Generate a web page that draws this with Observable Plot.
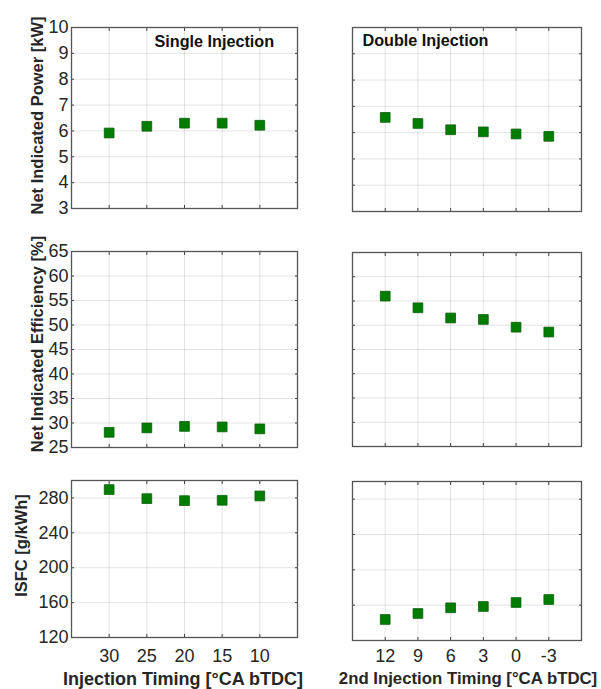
<!DOCTYPE html>
<html>
<head>
<meta charset="utf-8">
<script src="https://cdn.jsdelivr.net/npm/d3@7"></script>
<script src="https://cdn.jsdelivr.net/npm/@observablehq/plot@0.6"></script>
<style>
  body { margin: 0; background: #fff; }
  #chart { position: relative; width: 601px; height: 689px; font-family: "Liberation Sans", Arial, sans-serif; }
  #chart svg { position: absolute; overflow: visible; }
</style>
</head>
<body>
<div id="chart"></div>
<script>
// ---- data ----
const singleTiming = [30, 25, 20, 15, 10];
const doubleTiming = [12, 9, 6, 3, 0, -3];

const singlePower = [5.92, 6.18, 6.30, 6.30, 6.22];
const doublePower = [6.58, 6.35, 6.11, 6.03, 5.95, 5.86];

const singleEff = [28.1, 29.0, 29.3, 29.2, 28.8];
const doubleEff = [56.0, 53.6, 51.5, 51.2, 49.6, 48.6];

const singleIsfc = [289.6, 279.2, 276.9, 277.3, 282.3];
const doubleIsfc = [143.8, 150.6, 157.0, 158.5, 163.0, 166.4];

const powerTicks = [3, 4, 5, 6, 7, 8, 9, 10];
const effTicks = [25, 30, 35, 40, 45, 50, 55, 60, 65];
const isfcTicks = [120, 160, 200, 240, 280];

const yLabels = ["Net Indicated Power [kW]", "Net Indicated Efficiency [%]", "ISFC [g/kWh]"];
const xLabels = ["Injection Timing [°CA bTDC]", "2nd Injection Timing [°CA bTDC]"];
const panelTitles = ["Single Injection", "Double Injection"];

// ---- layout ----
const chart = document.getElementById("chart");
const green = "#007d00";
const font = "'Liberation Sans', Arial, sans-serif";

const cols = [
  {left: 0, width: 300, ml: 71, mr: 3, xDomain: [35, 5], xTicks: singleTiming,
   series: [singlePower, singleEff, singleIsfc], xs: singleTiming,
   title: panelTitles[0], titleDx: 83, titleDy: 8, xLabel: xLabels[0], xLabelSize: 18,
   xPad: 12, xLabelDy: 35, xLabelDx: -1.5},
  {left: 300, width: 301, ml: 52, mr: 20, xDomain: [15, -6], xTicks: doubleTiming,
   series: [doublePower, doubleEff, doubleIsfc], xs: doubleTiming,
   title: panelTitles[1], titleDx: 10, titleDy: 6.5, xLabel: xLabels[1], xLabelSize: 16.8,
   xPad: 9, xLabelDy: 32, xLabelDx: 1}
];

const rows = [
  {top: 0, height: 220, domain: [3, 10], ticks: powerTicks, label: yLabels[0], ldx: -34, ldy: -2.5,
   margins: [[27, 12], [27, 9]]},
  {top: 220, height: 240, domain: [25, 65], ticks: effTicks, label: yLabels[1], ldx: -34, ldy: -5.5,
   margins: [[31, 13], [32, 14]]},
  {top: 460, height: 229, domain: [120, 300], ticks: isfcTicks, label: yLabels[2], ldx: -50, ldy: -13.5,
   margins: [[20, 52], [21, 49]]}
];

const fmt = d => String(d);

rows.forEach((row, ri) => {
  cols.forEach((col, ci) => {
    const data = col.xs.map((t, i) => ({t, v: col.series[ri][i]}));
    const [mt, mb] = row.margins[ci];
    const grid = {stroke: "#000", strokeOpacity: 0.11, strokeWidth: 1};
    const tickStyle = {tickSize: -3, fill: "none", label: null, stroke: "#444"};
    const marks = [
      Plot.gridX(col.xTicks, grid),
      Plot.gridY(row.ticks, grid),
      Plot.axisX(col.xTicks, {anchor: "bottom", ...tickStyle}),
      Plot.axisX(col.xTicks, {anchor: "top", ...tickStyle}),
      Plot.axisY(row.ticks, {anchor: "left", ...tickStyle}),
      Plot.axisY(row.ticks, {anchor: "right", ...tickStyle}),
      Plot.frame({stroke: "#555", strokeWidth: 1.3}),
      Plot.dot(data, {x: "t", y: "v", symbol: "square", r: 5.5, fill: green, stroke: "#0b5e0b", strokeWidth: 0.8})
    ];
    if (ci === 0) {
      marks.push(Plot.axisY(row.ticks, {anchor: "left", tickSize: 0, tickPadding: 3, fontSize: 18, label: null, tickFormat: fmt}));
      marks.push(Plot.text([row.label], {frameAnchor: "left", rotate: -90, dx: row.ldx, dy: row.ldy,
        textAnchor: "middle", lineAnchor: "middle", fontSize: 16.5, fontWeight: "bold", fill: "#262626"}));
    }
    if (ri === 2) {
      marks.push(Plot.axisX(col.xTicks, {anchor: "bottom", tickSize: 0, tickPadding: col.xPad, fontSize: 18, label: null, tickFormat: fmt}));
      marks.push(Plot.text([col.xLabel], {frameAnchor: "bottom", dx: col.xLabelDx, dy: col.xLabelDy,
        textAnchor: "middle", lineAnchor: "top", fontSize: col.xLabelSize, fontWeight: "bold", fill: "#262626"}));
    }
    if (ri === 0) {
      marks.push(Plot.text([col.title], {frameAnchor: "top-left", dx: col.titleDx, dy: col.titleDy,
        textAnchor: "start", lineAnchor: "top", fontSize: 16.2, fontWeight: "bold", fill: "#111"}));
    }
    const svg = Plot.plot({
      width: col.width,
      height: row.height,
      marginLeft: col.ml,
      marginRight: col.mr,
      marginTop: mt,
      marginBottom: mb,
      x: {type: "linear", domain: col.xDomain},
      y: {type: "linear", domain: row.domain},
      style: {overflow: "visible", color: "#262626", fontFamily: font, background: "transparent"},
      marks
    });
    svg.style.left = col.left + "px";
    svg.style.top = row.top + "px";
    chart.appendChild(svg);
  });
});
</script>
</body>
</html>
